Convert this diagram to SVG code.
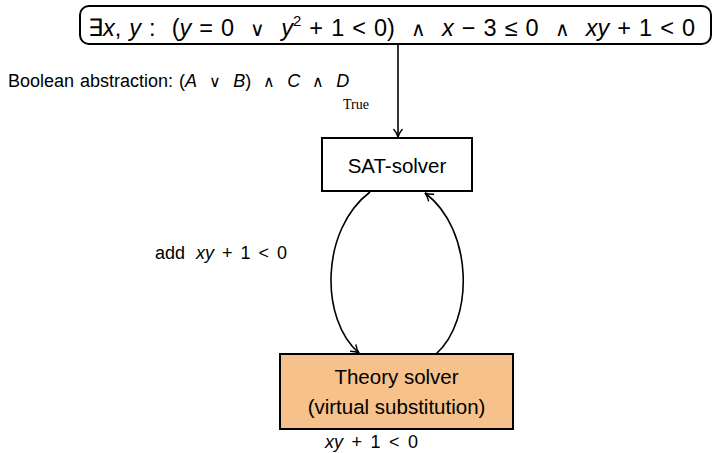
<svg xmlns="http://www.w3.org/2000/svg" width="713" height="453" viewBox="0 0 713 453">
<style>
text{font-family:"Liberation Sans",Arial,sans-serif;fill:#000;white-space:pre}
.i{font-style:italic}
.op{font-family:"DejaVu Sans",sans-serif;font-weight:300}
.box{stroke:#000;stroke-width:2}
.c{fill:none;stroke:#000;stroke-width:1.6}
</style>
<defs>
<marker id="ah" markerWidth="12" markerHeight="12" refX="10" refY="6" orient="auto" markerUnits="userSpaceOnUse">
<path d="M2,1.5 Q6,5 10,6 Q6,7 2,10.5" fill="none" stroke="#000" stroke-width="1.4"/>
</marker>
</defs>
<rect width="713" height="453" fill="#fff"/>
<g id="formula">
<rect class="box" x="80" y="6" width="631" height="38" rx="9" fill="#fff"/>
<text x="88" y="36" font-size="23.5" word-spacing="1.5" xml:space="preserve">∃<tspan class="i">x</tspan>, <tspan class="i">y</tspan> :  (<tspan class="i">y</tspan> = 0  <tspan class="op" font-size="20">∨</tspan>  <tspan class="i">y</tspan><tspan font-size="15" dy="-10">2</tspan><tspan dy="10"> + 1 &lt; 0)  </tspan><tspan class="op" font-size="20">∧</tspan>  <tspan class="i">x</tspan> − 3 ≤ 0  <tspan class="op" font-size="20">∧</tspan>  <tspan class="i">xy</tspan> + 1 &lt; 0</text>
</g>
<g id="abstraction">
<text x="8" y="87" font-size="18" word-spacing="1" xml:space="preserve">Boolean abstraction: (<tspan class="i">A</tspan>  <tspan class="op" font-size="16">∨</tspan>  <tspan class="i">B</tspan>)  <tspan class="op" font-size="16">∧</tspan>  <tspan class="i">C</tspan>  <tspan class="op" font-size="16">∧</tspan>  <tspan class="i">D</tspan></text>
<text x="343" y="109" font-size="14" style="font-family:'Liberation Serif',serif">True</text>
</g>
<g id="sat">
<rect class="box" x="322" y="138" width="150" height="53" fill="#fff"/>
<text x="397" y="173" font-size="20.5" text-anchor="middle">SAT-solver</text>
</g>
<g id="theory">
<rect class="box" x="280" y="354" width="233" height="75" fill="#f6c18b"/>
<text x="396.5" y="384" font-size="20.5" text-anchor="middle">Theory solver</text>
<text x="396.5" y="414" font-size="20.5" text-anchor="middle">(virtual substitution)</text>
</g>
<g id="labels">
<text x="155" y="259" font-size="18" word-spacing="3" xml:space="preserve">add <tspan class="i" dx="3">xy</tspan> + 1 &lt; 0</text>
<text x="325" y="448" font-size="18" word-spacing="3.5" xml:space="preserve"><tspan class="i">xy</tspan> + 1 &lt; 0</text>
</g>
<g id="connectors">
<path class="c" d="M398,44 L398,137" marker-end="url(#ah)"/>
<path class="c" d="M370,192 C320,230 320,320 359,353" marker-end="url(#ah)"/>
<path class="c" d="M436,354 C474,320 474,230 425,193" marker-end="url(#ah)"/>
</g>
</svg>
